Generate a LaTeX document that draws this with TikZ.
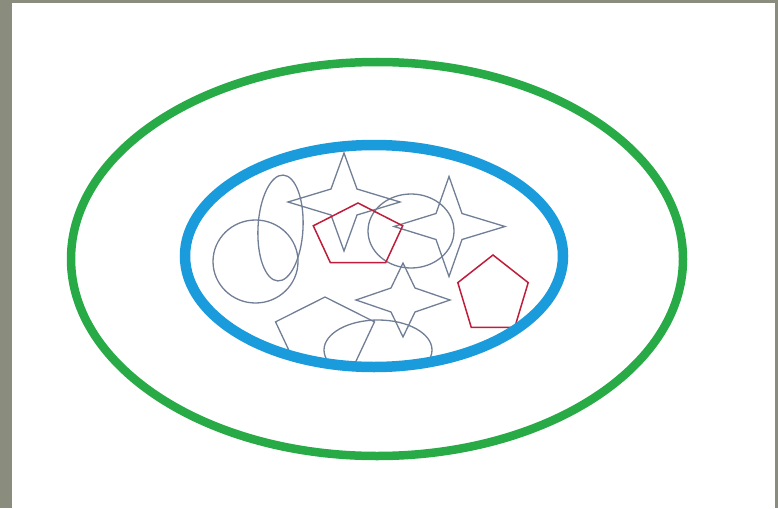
\documentclass[tikz,border=0pt]{standalone}
\begin{document}
\begin{tikzpicture}[x=1pt,y=-1pt,
  greenring/.style={draw={rgb,255:red,40;green,170;blue,70}, line width=8.5pt},
  bluering/.style={draw={rgb,255:red,26;green,155;blue,220}, line width=10.5pt},
  shapeline/.style={draw={rgb,255:red,112;green,126;blue,150}, line width=1.3pt, line join=miter},
  redline/.style={draw={rgb,255:red,190;green,30;blue,60}, line width=1.5pt, line join=miter}]
\definecolor{bggray}{RGB}{138,141,126}
\useasboundingbox (0,0) rectangle (778,508);
\fill[bggray] (0,0) rectangle (778,508);
\fill[white] (12,3) rectangle (775,508);
% outer green ring
\draw[greenring] (377,259) ellipse [x radius=306pt, y radius=197pt];
% shapes inside the blue ring
\begin{scope}
\clip (374,256) ellipse [x radius=194pt, y radius=116pt];
% left circle
\draw[shapeline] (255.5,261.5) ellipse [x radius=42.5pt, y radius=41.5pt];
% tall ellipse
\draw[shapeline, rotate around={-3:(280.5,228)}] (280.5,228) ellipse [x radius=22.5pt, y radius=53pt];
% right ellipse
\draw[shapeline] (411,231) ellipse [x radius=43pt, y radius=37pt];
% bottom ellipse
\draw[shapeline] (378,350) ellipse [x radius=54pt, y radius=30pt];
% gray pentagon
\draw[shapeline, shift={(325,333)}, x=52pt, y=36pt]
  (90:1) -- (162:1) -- (234:1) -- (306:1) -- (18:1) -- cycle;
% star 1
\draw[shapeline, shift={(344,202)}]
  (0,-49) -- (13,-13) -- (56,0) -- (13,13) -- (0,49) -- (-13,13) -- (-56,0) -- (-13,-13) -- cycle;
% star 2
\draw[shapeline, shift={(449,226.5)}]
  (0,-50) -- (13,-13) -- (56,0) -- (13,13) -- (0,50) -- (-13,13) -- (-55,0) -- (-13,-13) -- cycle;
% star 3
\draw[shapeline, shift={(403,300)}]
  (0,-37) -- (12,-12) -- (47,0) -- (12,12) -- (0,37) -- (-12,12) -- (-47,0) -- (-12,-12) -- cycle;
% red pentagons
\draw[redline, shift={(358,236)}, x=47pt, y=33pt]
  (90:1) -- (162:1) -- (234:1) -- (306:1) -- (18:1) -- cycle;
\draw[redline, shift={(493,295)}, x=37pt, y=40pt]
  (90:1) -- (162:1) -- (234:1) -- (306:1) -- (18:1) -- cycle;
\end{scope}
% blue ring
\draw[bluering] (374,256) ellipse [x radius=189pt, y radius=111pt];
\end{tikzpicture}
\end{document}
